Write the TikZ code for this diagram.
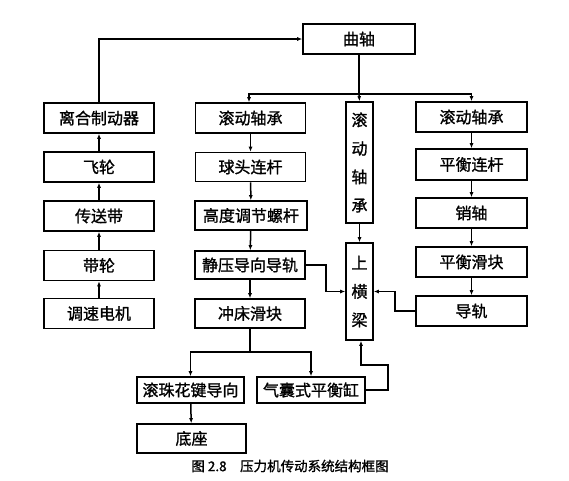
\documentclass[tikz,border=0pt]{standalone}
\usepackage{fontspec}
\newfontfamily\cjk[FakeBold=1.2]{Noto Sans CJK SC}
\usetikzlibrary{calc,arrows.meta}
\tikzset{>={Latex[length=5pt,width=4pt]}}
\tikzset{
  box/.style={draw,line width=1.6pt,inner sep=0pt,minimum width=110,minimum height=30,
    font=\cjk\fontsize{16}{20}\selectfont},
  tallbox/.style={box,minimum width=27,align=center,font=\cjk\fontsize{16}{28.5}\selectfont},
  link/.style={line width=1.5pt}
}

\begin{document}
\begin{tikzpicture}[x=1pt,y=-1pt]
  \useasboundingbox (0,0) rectangle (569,480);
  % top
  \node[box,minimum width=112] (crank) at (359,39) {曲轴};
  % left column
  \node[box] (clutch) at (99,118) {离合制动器};
  \node[box] (flywheel) at (99,167) {飞轮};
  \node[box] (belt) at (99,216) {传送带};
  \node[box] (pulley) at (99,265.5) {带轮};
  \node[box] (motor) at (99,313.5) {调速电机};
  % second column
  \node[box] (bearingA) at (250.5,118) {滚动轴承};
  \node[box,minimum height=29] (rod) at (250.5,167) {球头连杆};
  \node[box,minimum width=112,minimum height=29] (screw) at (251,215.5) {高度调节螺杆};
  \node[box,minimum height=28] (guide) at (250,265) {静压导向导轨};
  \node[box,minimum height=29] (slider) at (250,313.5) {冲床滑块};
  % middle column
  \node[tallbox,minimum height=121] (bearingB) at (359.5,162.5) {滚\\动\\轴\\承};
  \node[tallbox,minimum height=97] (beam) at (359.5,291.5) {上\\横\\梁};
  % right column
  \node[box,minimum width=111] (bearingC) at (471.5,117) {滚动轴承};
  \node[box,minimum width=111,minimum height=31] (balrod) at (471.5,164.5) {平衡连杆};
  \node[box,minimum width=111] (pin) at (471.5,213) {销轴};
  \node[box,minimum width=111] (balslider) at (471.5,262) {平衡滑块};
  \node[box,minimum width=111] (rail) at (471.5,311) {导轨};
  % bottom
  \node[box,minimum width=107,minimum height=26] (spline) at (190.5,390) {滚珠花键导向};
  \node[box,minimum width=108,minimum height=26] (cylinder) at (311,390) {气囊式平衡缸};
  \node[box,minimum width=109,minimum height=29] (base) at (191.5,438.5) {底座};
  \node[font=\cjk\fontsize{13.5}{16}\selectfont] (caption) at (290,466) {图 2.8\quad 压力机传动系统结构框图};
  % 
  \foreach \a/\b in {motor/pulley,pulley/belt,belt/flywheel,flywheel/clutch}
    \draw[link,->] (\a) -- (\b);
  \draw[link,->] (clutch.north) |- (crank.west);
  \draw[link] (crank.south) -- ++(0,39) coordinate (split);
  \draw[link,->] (split) -| ($(bearingA.north)+(-1.5,0)$);
  \draw[link,->] (split) -| (bearingC.north);
  \draw[link,->] (split) -- (bearingB.north);
  \foreach \a/\b in {bearingA/rod,rod/screw,screw/guide,guide/slider,bearingB/beam,
    bearingC/balrod,balrod/pin,pin/balslider,balslider/rail,spline/base}
    \draw[link,->] (\a) -- (\b);
  \draw[link,->] (guide.east) -- ++(20,0) |- (beam.west);
  \draw[link,->] (rail.west) -- ++(-20,0) |- (beam.east);
  % 
  \draw[link] (slider.south) -- ++(0,23) coordinate (fork);
  \draw[link,->] (fork) -| (spline.north);
  \draw[link,->] (fork) -| (cylinder.north);
  \draw[link,->] (cylinder.east) -- ++(22,0) -- ++(0,-25) -| ($(beam.south)+(1.5,0)$);
\end{tikzpicture}
\end{document}
